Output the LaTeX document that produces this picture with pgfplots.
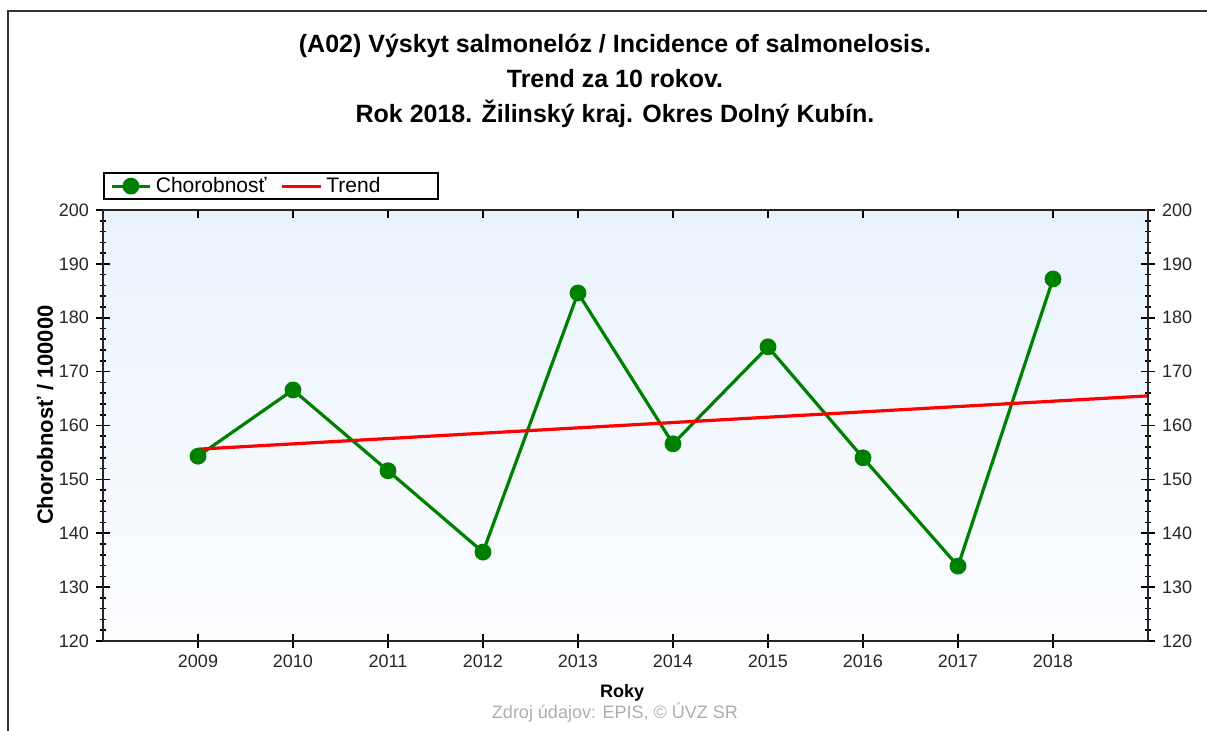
\documentclass[border=0pt]{standalone}
\usepackage{pgfplots}
\pgfplotsset{compat=1.18}
\usepackage{fontspec}
\setmainfont{Liberation Sans}
\definecolor{lgreen}{RGB}{0,128,0}
\definecolor{lred}{RGB}{255,0,0}
\definecolor{bgtop}{RGB}{233,243,253}
\definecolor{bgbot}{RGB}{252,253,255}
\begin{document}
\begin{tikzpicture}
\useasboundingbox (0,0) rectangle (603.5pt,365.5pt);
\draw[line width=1pt, black!80] (4pt,-5pt) -- (4pt,360pt) -- (610pt,360pt);
\node[font=\bfseries\fontsize{12.5}{17.5}\selectfont, align=center] at (307.5pt,325pt)
 {(A02) Výskyt salmonelóz / Incidence of salmonelosis.\\Trend za 10 rokov.\\Rok 2018. Žilinský kraj. Okres Dolný Kubín.};
\node[font=\fontsize{9}{11}\selectfont, text=black!32, anchor=south] at (307.5pt,0.8pt) {Zdroj údajov: EPIS, © ÚVZ SR};
\pgfplotsset{myaxis/.style={
  at={(51.5pt,45pt)}, anchor=south west, scale only axis,
  width=522.5pt, height=215.5pt,
  xmin=2008, xmax=2019, ymin=120, ymax=200,
  xtick={2009,...,2018}, ytick={120,130,...,200}, minor y tick num=4,
  /pgf/number format/assume math mode=true,
  /pgf/number format/1000 sep={},
  tick label style={font=\fontsize{9}{11}\selectfont, text=black!85},
  major tick length=7pt, minor tick length=3.5pt,
  tick style={line width=0.8pt, black},
  axis line style={line width=1pt, black!85},
}}
\begin{axis}[myaxis,
  axis background/.style={top color=bgtop, bottom color=bgbot},
  xtick pos=bottom, ytick pos=left, tick align=center,
  xlabel={Roky}, ylabel={Chorobnosť / 100000},
  xlabel style={font=\bfseries\fontsize{9}{11}\selectfont, at={(axis description cs:0.4967,-0.1206)}, anchor=center},
  ylabel style={font=\bfseries\fontsize{11}{13}\selectfont, at={(axis description cs:-0.0555,0.524)}, anchor=center},
  legend style={at={(rel axis cs:0,1.0882)}, anchor=north west, legend columns=2,
    draw=black, line width=1pt, font=\fontsize{10.5}{12}\selectfont,
    inner xsep=3pt, inner ysep=0pt,
    /tikz/every even column/.append style={column sep=5pt}},
  legend image code/.code={\draw[mark repeat=2,mark phase=2] plot coordinates {(0cm,0cm) (0.34cm,0cm) (0.68cm,0cm)};},
]
\addplot[lgreen, line width=1.6pt, mark=*, mark size=3.4pt, mark options={fill=lgreen, draw=lgreen}]
 coordinates {(2009,154.3) (2010,166.6) (2011,151.6) (2012,136.5) (2013,184.6) (2014,156.6) (2015,174.6) (2016,154.0) (2017,133.9) (2018,187.2)};
\addlegendentry{Chorobnosť}
\addplot[lred, line width=1.6pt]
 coordinates {(2009,155.6) (2019,165.5)};
\addlegendentry{Trend\hspace*{24pt}}
\end{axis}
\begin{axis}[myaxis, hide x axis, ytick pos=right, yticklabel pos=right, tick align=center]
\end{axis}
\begin{axis}[myaxis, hide y axis, xtick pos=top, xticklabels={}, tick align=inside, major tick length=4pt]
\end{axis}
\end{tikzpicture}
\end{document}
